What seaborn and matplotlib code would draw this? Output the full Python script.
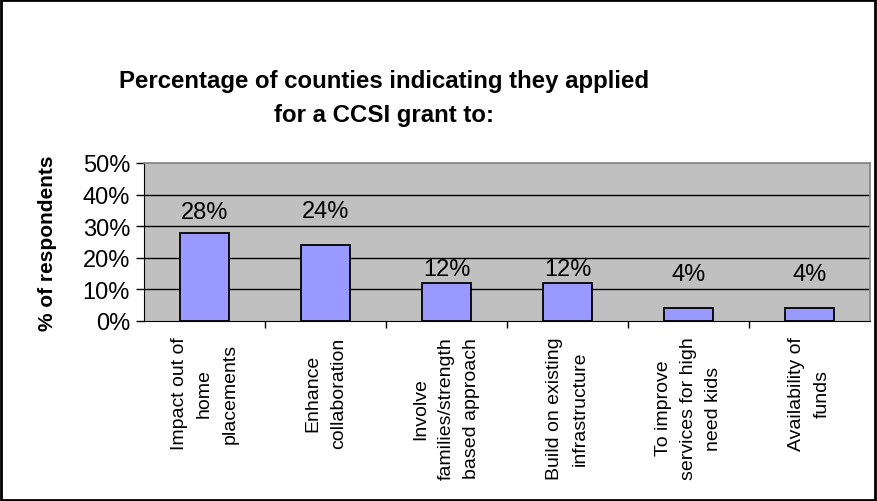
import matplotlib
matplotlib.use("Agg")
import matplotlib.pyplot as plt
import seaborn as sns
import pandas as pd
from matplotlib.patches import Rectangle

categories = [
    "Impact out of\nhome\nplacements",
    "Enhance\ncollaboration",
    "Involve\nfamilies/strength\nbased approach",
    "Build on existing\ninfrastructure",
    "To improve\nservices for high\nneed kids",
    "Availability of\nfunds",
]
values = [28, 24, 12, 12, 4, 4]
y_ticks = [0, 10, 20, 30, 40, 50]
y_tick_labels = ["0%", "10%", "20%", "30%", "40%", "50%"]
# vertical lift of each value label above its bar (data units)
label_lift = [6.5, 10.8, 4.5, 4.5, 10.9, 10.9]

sns.set_style("white")
plt.rcParams["font.family"] = ["Liberation Sans", "DejaVu Sans"]
plt.rcParams.update({"text.color": "black", "axes.labelcolor": "black",
                     "xtick.color": "black", "ytick.color": "black"})

df = pd.DataFrame({"category": categories, "value": values})

fig = plt.figure(figsize=(8.77, 5.02), dpi=100)
ax = fig.add_axes([144 / 877, 1 - 322 / 502, (870 - 144) / 877, (322 - 164) / 502])

sns.barplot(data=df, x="category", y="value", ax=ax, color="#9999FF",
            width=0.4, edgecolor="black", linewidth=1.3, saturation=1)

ax.set_facecolor("#C0C0C0")
ax.set_ylim(0, 50)
ax.set_xlim(-0.5, len(categories) - 0.5)
ax.set_yticks(y_ticks)
ax.set_yticklabels(y_tick_labels, fontsize=17)
for y in y_ticks[1:-1]:
    ax.axhline(y, color="black", linewidth=1.0, zorder=0.5)

ax.set_xticks([i + 0.5 for i in range(len(categories) - 1)], minor=False)
ax.set_xticklabels([])
ax.set_xticks(range(len(categories)), minor=True)
ax.set_xticklabels(categories, minor=True, rotation=90, fontsize=14,
                   va="top", ha="center", multialignment="center",
                   linespacing=1.65)
ax.tick_params(axis="x", which="minor", length=0, pad=11)
ax.tick_params(axis="x", which="major", length=5, width=1, color="black",
               direction="out", bottom=True)
ax.tick_params(axis="y", length=6, width=1, color="black", direction="out",
               left=True, pad=4)

for side in ["top", "right"]:
    ax.spines[side].set_color("#808080")
    ax.spines[side].set_linewidth(1.2)
ax.spines["left"].set_color("black")
ax.spines["bottom"].set_color("black")

for i, v in enumerate(values):
    ax.text(i, v + label_lift[i], f"{v}%", ha="center", va="center", fontsize=17)

ax.set_xlabel("")
ax.set_ylabel("% of respondents", fontsize=15, fontweight="bold")
ax.yaxis.set_label_coords((57 - 144) / (870 - 144), 0.5)

fig.suptitle("Percentage of counties indicating they applied\nfor a CCSI grant to:",
             fontsize=17.3, fontweight="bold", x=384 / 877, y=1 - 70 / 502,
             va="top", linespacing=1.62)

fig.patches.append(Rectangle((0.001, 0.002), 0.997, 0.996, transform=fig.transFigure,
                             fill=False, edgecolor="black", linewidth=2))

fig.savefig("out.png", dpi=100, facecolor="white")
